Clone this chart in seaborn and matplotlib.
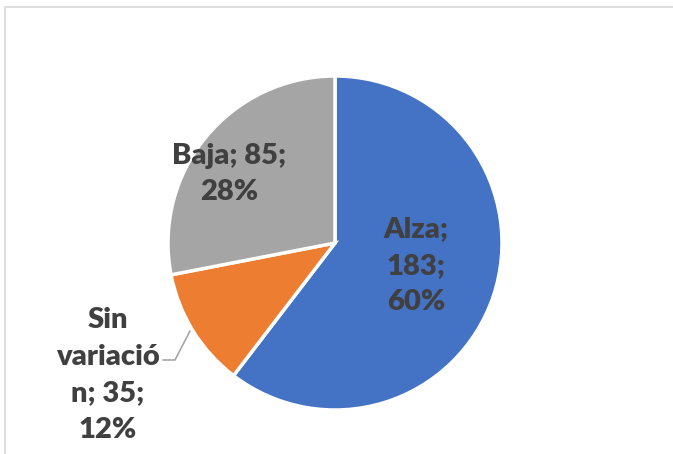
import matplotlib
matplotlib.use("Agg")
import matplotlib.pyplot as plt
from matplotlib.lines import Line2D
import seaborn as sns

categories = ['Alza', 'Sin variación', 'Baja']
counts = [183, 35, 85]
percents = ['60%', '12%', '28%']
colors = ['#4472C4', '#ED7D31', '#A5A5A5']

sns.set_style("white")
plt.rcParams['font.family'] = ['Lato', 'DejaVu Sans']

W, H = 673, 454
fig = plt.figure(figsize=(W / 100, H / 100), dpi=100)

# pie center and radius in pixels
cx, cy, r = 335, 243, 167
ax = fig.add_axes([(cx - r) / W, (H - cy - r) / H, 2 * r / W, 2 * r / H])
ax.pie(counts, colors=colors, startangle=90, counterclock=False,
       wedgeprops=dict(edgecolor='white', linewidth=2.5))
ax.set_xlim(-1, 1)
ax.set_ylim(-1, 1)
ax.set_aspect('equal')
ax.axis('off')


def px(x, y):
    return (x - cx) / r, (cy - y) / r


txt = dict(ha='center', va='center', fontsize=21, fontweight='heavy',
           color='#404040', linespacing=1.5)

ax.text(*px(416, 266), f"{categories[0]};\n{counts[0]};\n{percents[0]}", **txt)
ax.text(*px(229, 174), f"{categories[2]}; {counts[2]};\n{percents[2]}", **txt)
sin_label = categories[1]
ax.text(*px(108, 375), f"Sin\n{sin_label[4:12]}\n{sin_label[12:]}; {counts[1]};\n{percents[1]}",
        clip_on=False, **txt)

# leader line
lx, ly = zip(px(190, 331), px(175, 360), px(163, 360))
ax.plot(lx, ly, color='#A6A6A6', linewidth=1.2, clip_on=False)

# chart area border (top and left)
fig.add_artist(Line2D([5 / W, 1], [1 - 7 / H, 1 - 7 / H], color='#D9D9D9', linewidth=1.2))
fig.add_artist(Line2D([5 / W, 5 / W], [0, 1 - 7 / H], color='#D9D9D9', linewidth=1.2))

fig.savefig("out.png", dpi=100)
